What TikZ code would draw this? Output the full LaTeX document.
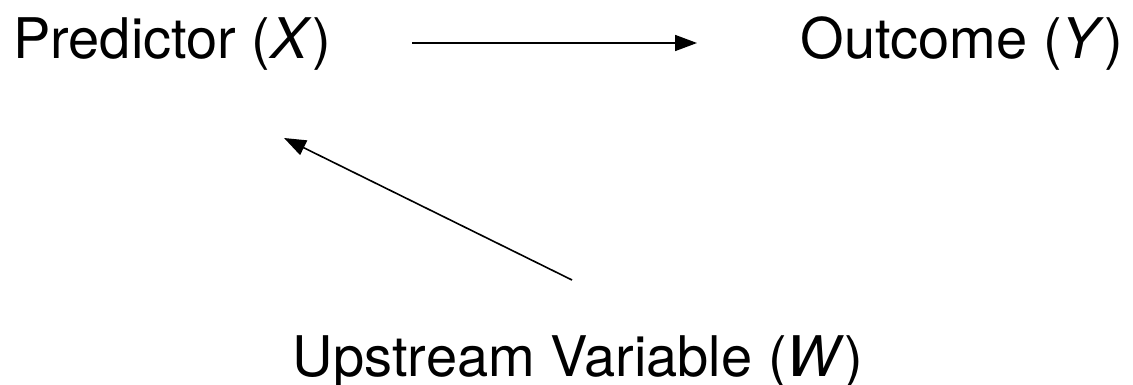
\documentclass[tikz,border=0pt]{standalone}
\usepackage{fontspec}
\setmainfont{TeX Gyre Heros}
\usetikzlibrary{arrows.meta}
\begin{document}
\begin{tikzpicture}[x=1pt,y=1pt,
  lbl/.style={inner sep=0pt, anchor=base, font=\fontsize{56}{64}\selectfont},
  conn/.style={line width=1.6pt, -{Triangle[length=22pt,width=16pt]}}]
\useasboundingbox (0,0) rectangle (1133,384);
\node[lbl] (x) at (172,326) {Predictor (\textit{X})};
\node[lbl] (y) at (962,326) {Outcome (\textit{Y})};
\node[lbl] (w) at (578,8) {Upstream Variable (\textit{W})};
\coordinate (a1s) at (412,341);
\coordinate (a1e) at (697,341);
\coordinate (a2s) at (572,104);
\coordinate (a2e) at (284,246);
\draw[conn] (a1s) -- (a1e);
\draw[conn] (a2s) -- (a2e);
\end{tikzpicture}
\end{document}
